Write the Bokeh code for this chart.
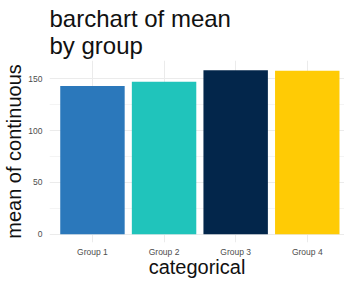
from bokeh.plotting import figure
from bokeh.models import ColumnDataSource, FixedTicker, Title
from bokeh.embed import file_html
from bokeh.resources import INLINE

categories = ["Group 1", "Group 2", "Group 3", "Group 4"]
means = [143, 147, 158, 157.5]
colors = ["#2b78bb", "#20c4bb", "#03264b", "#ffcb05"]
y_ticks = [0, 50, 100, 150]
y_minor = [25, 75, 125]

xpos = list(range(1, len(categories) + 1))
src = ColumnDataSource(dict(x=xpos, top=means, color=colors, cat=categories))

p = figure(width=344, height=280, output_backend="svg", toolbar_location=None,
           x_range=(0.4, 4.52), y_range=(-8, 167.5),
           min_border_left=42, min_border_right=0, min_border_top=52, min_border_bottom=0)
p.title = None
p.add_layout(Title(text="barchart of mean\nby group", text_font="Liberation Sans",
                   text_font_size="24px", text_font_style="normal", text_color="#111111",
                   offset=0, standoff=4), "above")

p.vbar(x="x", top="top", bottom=0, width=0.9, color="color", line_color=None, source=src)

p.outline_line_color = None
p.background_fill_color = "white"
p.border_fill_color = "white"

p.xaxis.ticker = FixedTicker(ticks=xpos)
p.xaxis.major_label_overrides = {i: c for i, c in zip(xpos, categories)}
p.yaxis.ticker = FixedTicker(ticks=y_ticks, minor_ticks=y_minor)
for ax in (p.xaxis[0], p.yaxis[0]):
    ax.axis_line_color = None
    ax.major_tick_line_color = None
    ax.minor_tick_line_color = None
    ax.major_tick_out = 0
    ax.minor_tick_out = 0
    ax.major_label_text_font = "Liberation Sans"
    ax.major_label_text_font_size = "8.5px"
    ax.major_label_text_color = "#4d4d4d"
    ax.axis_label_text_font = "Liberation Sans"
    ax.axis_label_text_font_size = "20px"
    ax.axis_label_text_font_style = "normal"
    ax.axis_label_text_color = "#111111"
p.xaxis.axis_label = "categorical"
p.yaxis.axis_label = "mean of continuous"
p.xaxis.major_label_standoff = 4
p.yaxis.major_label_standoff = 7
p.xaxis.axis_label_standoff = -4
p.yaxis.axis_label_standoff = 0

p.xgrid.grid_line_color = "#ebebeb"
p.ygrid.grid_line_color = "#ebebeb"
p.ygrid.minor_grid_line_color = "#f4f4f4"

open("out.html", "w").write(file_html(p, INLINE))
